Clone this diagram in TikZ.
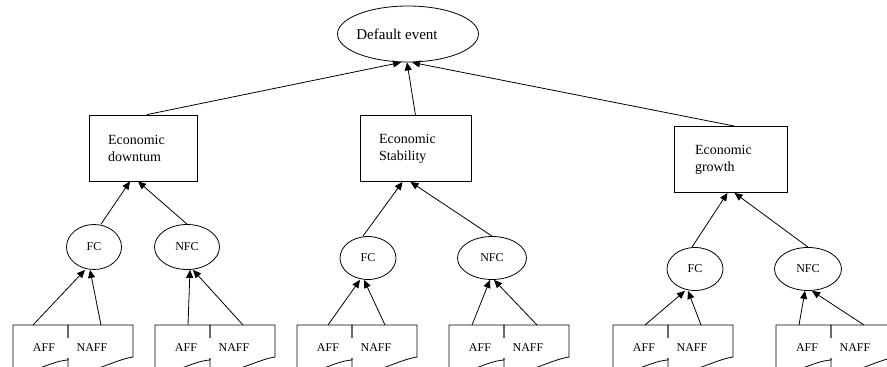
\documentclass[tikz,border=0pt]{standalone}
\usepackage{fontspec}
\setmainfont{Liberation Serif}
\usetikzlibrary{arrows.meta,shapes.geometric}
\tikzset{
  event/.style={draw, ellipse, minimum width=141pt, minimum height=56pt, inner sep=0pt, font=\fontsize{15}{17}\selectfont},
  state/.style={draw, rectangle, minimum height=66pt, text width=70pt, inner xsep=19pt, align=left, font=\fontsize{14}{17}\selectfont},
  cond/.style={draw, ellipse, minimum width=56pt, minimum height=43pt, inner sep=0pt, font=\fontsize{12}{14}\selectfont},
  lbl/.style={fill=white, inner xsep=11pt, inner ysep=6pt, font=\fontsize{12}{14}\selectfont},
  link/.style={-{Triangle[length=8pt,width=7pt]}},
}
\begin{document}
\begin{tikzpicture}[x=1pt, y=-1pt, line width=0.8pt]
  \useasboundingbox (0,0) rectangle (887,367);
  % top event and the three states
  \node[event] (def) at (408,34) {\hspace*{-22pt}Default event};
  \node[state] (down) at (143,148) {Economic\\downtum};
  \node[state, text width=73pt] (stab) at (415.5,148.5) {Economic\\Stability};
  \node[state, text width=71pt, inner xsep=21pt] (grow) at (730.5,159.5) {Economic\\growth};
  % FC / NFC
  \node[cond, minimum width=55pt, minimum height=45pt] (fc1) at (94,247) {FC};
  \node[cond, minimum width=65pt, minimum height=45pt] (nfc1) at (187,247) {NFC};
  \node[cond] (fc2) at (368,258) {FC};
  \node[cond, minimum width=69pt] (nfc2) at (492,258) {NFC};
  \node[cond] (fc3) at (695,269) {FC};
  \node[cond, minimum width=67pt] (nfc3) at (808,269) {NFC};
  % AFF / NAFF documents
  \foreach \x/\a [count=\i] in {13/20,155/33,297/31,449/23,613/32,776/23}{
    \draw (\x,372) -- (\x,325) -- (\x+55,325) -- (\x+55,360)
      .. controls (\x+37,361) and (\x+17,376) .. (\x,372);
    \draw (\x+55,372) -- (\x+55,325) -- (\x+120,325) -- (\x+120,357)
      .. controls (\x+100,360) and (\x+77,376) .. (\x+55,372);
    \node[lbl] (aff\i) at (\x+31,348) {AFF};
    \node[lbl] (naff\i) at (\x+79,348) {NAFF};
    \coordinate (a\i) at (\x+\a,325);
    \coordinate (n\i) at (\x+88,325);
  }
  % states to top event
  \draw[link] ([xshift=4pt]down.north) -- ([xshift=-7pt]def.south);
  \draw[link] (stab.north) -- ([xshift=-1pt]def.south);
  \draw[link] ([xshift=4pt]grow.north) -- ([xshift=4pt]def.south);
  % FC / NFC to states
  \draw[link] ([xshift=7pt]fc1.north) -- ([xshift=-13pt]down.south);
  \draw[link] (nfc1.north) -- ([xshift=-5pt]down.south);
  \draw[link] ([xshift=-5pt]fc2.north) -- ([xshift=-13pt]stab.south);
  \draw[link] (nfc2.north) -- ([xshift=-5pt]stab.south);
  \draw[link] ([xshift=-3pt]fc3.north) -- ([xshift=-3pt]grow.south);
  \draw[link] (nfc3.north) -- ([xshift=4pt]grow.south);
  % documents to FC / NFC
  \draw[link] (a1) -- ([xshift=-9pt]fc1.south);
  \draw[link] (n1) -- ([xshift=-4pt]fc1.south);
  \draw[link] (a2) -- ([xshift=3pt]nfc1.south);
  \draw[link] (n2) -- ([xshift=6pt]nfc1.south);
  \draw[link] (a3) -- ([xshift=-8pt]fc2.south);
  \draw[link] (n3) -- ([xshift=-4pt]fc2.south);
  \draw[link] (a4) -- ([xshift=-2pt]nfc2.south);
  \draw[link] (n4) -- ([xshift=2pt]nfc2.south);
  \draw[link] (a5) -- ([xshift=-10pt]fc3.south);
  \draw[link] (n5) -- ([xshift=-7pt]fc3.south);
  \draw[link] (a6) -- ([xshift=-3pt]nfc3.south);
  \draw[link] (n6) -- ([xshift=4pt]nfc3.south);
\end{tikzpicture}
\end{document}
